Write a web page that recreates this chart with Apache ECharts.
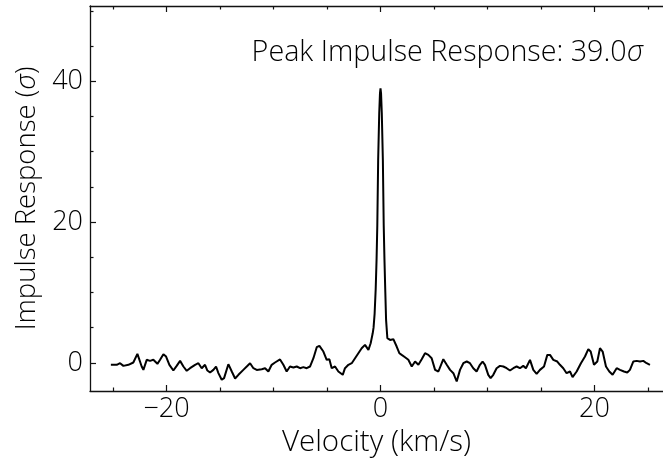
<!DOCTYPE html>
<html>
<head>
<meta charset="utf-8">
<script src="https://cdn.jsdelivr.net/npm/echarts@6/dist/echarts.min.js"></script>
<style>
html,body{margin:0;padding:0;background:#fff;}
#chart{width:663px;height:464px;}
</style>
</head>
<body>
<div id="chart"></div>
<script>
const velocity = [
-25.2,-24.65,-24.34,-24.03,-23.56,-23.1,-22.72,-22.32,-22.16,-21.85,-21.54,-21.23,-20.85,-20.6,-20.29,-20.04,
-19.73,-19.36,-19.05,-18.73,-18.42,-18.11,-17.8,-17.33,-17.02,-16.71,-16.4,-16.18,-15.93,-15.62,-15.37,-15.15,
-14.84,-14.62,-14.22,-13.9,-13.59,-13.28,-12.82,-12.5,-12.19,-11.88,-11.57,-11.1,-10.79,-10.48,-10.17,-9.86,
-9.39,-9.08,-8.77,-8.46,-8.14,-7.83,-7.52,-7.21,-6.9,-6.59,-6.27,-5.96,-5.71,-5.34,-5.03,-4.78,-4.56,-4.25,
-3.94,-3.53,-3.32,-3.0,-2.69,-2.38,-2.07,-1.76,-1.45,-1.13,-0.92,-0.73,-0.65,-0.55,-0.45,-0.37,-0.3,-0.22,
-0.12,-0.05,0,0.05,0.12,0.22,0.3,0.37,0.45,0.52,0.64,0.89,1.2,1.51,1.76,1.98,2.29,2.6,2.92,3.23,3.54,3.85,
4.16,4.47,4.78,5.1,5.41,5.87,6.19,6.5,6.81,7.12,7.43,7.74,8.06,8.36,8.67,8.98,9.29,9.54,9.76,10.07,10.29,
10.54,10.85,11.16,11.48,11.79,12.1,12.41,12.72,13.03,13.34,13.59,13.97,14.28,14.59,14.9,15.28,15.59,15.84,
16.15,16.52,16.77,17.08,17.39,17.71,17.95,18.33,18.73,19.11,19.42,19.64,19.95,20.26,20.51,20.76,21.07,21.38,
21.69,22.07,22.38,22.75,23.06,23.31,23.62,23.94,24.25,24.56,24.87,25.18
];
const response = [
-0.28,-0.28,-0.05,-0.43,-0.28,0.05,1.28,-0.52,-1.0,0.43,0.28,0.43,-0.14,0.43,1.23,0.9,
-0.28,-1.09,-0.43,0.28,-0.52,-1.13,-0.76,-0.28,-0.05,-0.76,-0.28,-1.09,-1.37,-1.0,-0.52,-1.46,
-2.41,-2.17,-0.19,-1.23,-2.22,-1.7,-1.0,-0.52,-0.05,-0.76,-1.0,-0.9,-0.76,-1.23,-0.28,0.05,
0.48,-0.28,-1.23,-0.52,-0.66,-0.52,-0.76,-0.61,-0.76,-0.52,0.66,2.22,2.41,1.61,0.43,0.52,-0.76,-0.52,
-1.23,-1.7,-0.76,-0.28,-0.05,0.66,1.37,2.08,2.55,1.84,2.79,4.2,5.0,7.0,10.5,14.6,19.5,28.8,
35.5,38.3,39.0,38.3,35.5,28.8,19.5,14.6,10.0,6.1,3.5,3.26,3.36,2.32,1.37,1.13,0.8,0.43,-0.52,0.19,-0.28,0.52,
1.37,1.13,0.66,-1.0,-1.23,0.52,-0.28,-1.0,-1.47,-2.65,-1.0,-0.05,0.19,-0.05,-0.76,-1.23,-0.28,0.19,-0.28,-1.7,-2.17,
-1.7,-0.76,-0.43,-0.52,-0.76,-1.09,-0.76,-0.52,-0.76,-0.43,-0.76,0.43,-1.0,-1.56,-1.0,-0.52,1.13,1.13,
0.43,0.19,-0.28,-0.76,-1.47,-1.23,-2.03,-1.23,-0.05,0.9,1.94,1.61,-0.28,0.19,2.08,1.61,-0.52,-1.23,
-1.7,-0.76,-1.0,-1.23,-1.37,-1.0,0.19,0.28,0.19,0.28,-0.05,-0.28
];
const xMajorTicks = [-20, 0, 20];
const xMinorTicks = [-25, -15, -10, -5, 5, 10, 15, 25];
const yMajorTicks = [0, 20, 40];
const yMinorTicks = [5, 10, 15, 25, 30, 35, 45, 50];
const peakLabel = 'Peak Impulse Response: 39.0';
const xTitle = 'Velocity (km/s)';
const yTitle = 'Impulse Response (';

const FONT = '"Open Sans"';
const FS = 27;
const FW = 300;
const TXT = '#000';
const AX = '#111';
const XMIN = -27.15, XMAX = 26.4, YMIN = -4.0, YMAX = 50.7;

const chart = echarts.init(document.getElementById('chart'), null, {renderer: 'canvas'});

function xAxisDef(pos, ticks, len, showLine, labels) {
  return {
    type: 'value', position: pos, min: XMIN, max: XMAX,
    axisLine: {show: showLine, onZero: false, lineStyle: {color: AX, width: 1.3}},
    axisTick: {show: true, inside: true, length: len, customValues: ticks, lineStyle: {color: AX, width: 1.2}},
    axisLabel: labels ? {
      show: true, customValues: ticks, margin: 5, fontSize: FS, fontWeight: FW, fontFamily: FONT, color: TXT,
      formatter: v => String(v).replace('-', '\u2212')
    } : {show: false},
    splitLine: {show: false}
  };
}
function yAxisDef(pos, ticks, len, showLine, labels) {
  return {
    type: 'value', position: pos, min: YMIN, max: YMAX,
    axisLine: {show: showLine, onZero: false, lineStyle: {color: AX, width: 1.3}},
    axisTick: {show: true, inside: true, length: len, customValues: ticks, lineStyle: {color: AX, width: 1.2}},
    axisLabel: labels ? {
      show: true, customValues: ticks, margin: 7, fontSize: FS, fontWeight: FW, fontFamily: FONT, color: TXT
    } : {show: false},
    splitLine: {show: false}
  };
}

const xMain = xAxisDef('bottom', xMajorTicks, 6, true, true);
xMain.name = xTitle;
xMain.nameLocation = 'middle';
xMain.nameGap = 34;
xMain.nameTextStyle = {fontSize: 29.5, fontWeight: FW, fontFamily: FONT, color: TXT};

const yMain = yAxisDef('left', yMajorTicks, 6, true, true);
yMain.name = '{a|' + yTitle + '}{b|\u03C3}{a|)}';
yMain.nameLocation = 'middle';
yMain.nameGap = 46;
yMain.nameRotate = 90;
yMain.nameTextStyle = {
  fontSize: 27.5, fontFamily: FONT, color: TXT,
  rich: {a: {fontSize: 27.5, fontWeight: FW, fontFamily: FONT, color: TXT}, b: {fontSize: 27.5, fontWeight: FW, fontFamily: FONT, color: TXT, fontStyle: 'italic'}}
};

const option = {
  animation: false,
  backgroundColor: '#fff',
  grid: {left: 90, top: 6, right: 0, bottom: 73, containLabel: false},
  xAxis: [
    xMain,
    xAxisDef('bottom', xMinorTicks, 3.5, false, false),
    xAxisDef('top', xMajorTicks, 6, true, false),
    xAxisDef('top', xMinorTicks, 3.5, false, false)
  ],
  yAxis: [
    yMain,
    yAxisDef('left', yMinorTicks, 3.5, false, false)
  ],
  graphic: [{
    type: 'text',
    right: 20, top: 38,
    style: {
      text: '{a|' + peakLabel + '}{b|\u03C3}',
      rich: {
        a: {fontSize: 28.7, fontWeight: FW, fontFamily: FONT, fill: TXT},
        b: {fontSize: 28.7, fontWeight: FW, fontFamily: FONT, fill: TXT, fontStyle: 'italic'}
      }
    }
  }],
  series: [{
    type: 'line',
    xAxisIndex: 0, yAxisIndex: 0,
    data: velocity.map((v, i) => [v, response[i]]),
    showSymbol: false,
    symbol: 'none',
    lineStyle: {color: '#000', width: 2},
    clip: true
  }]
};
chart.setOption(option);
</script>
</body>
</html>
